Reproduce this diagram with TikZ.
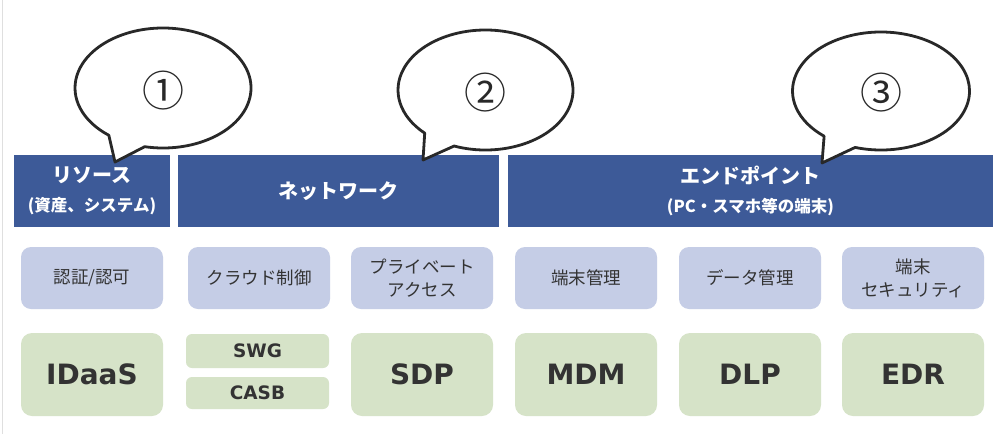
\documentclass[tikz,border=0pt]{standalone}
\usepackage{fontspec}
\usetikzlibrary{calc}
\newfontfamily\jp{Noto Sans CJK JP}
\newfontfamily\lat{DejaVu Sans}
\definecolor{hdr}{RGB}{61,90,152}
\definecolor{lblue}{RGB}{197,205,230}
\definecolor{lgreen}{RGB}{214,227,200}
\definecolor{txt}{RGB}{51,51,51}
\definecolor{bub}{RGB}{40,40,40}
\tikzset{
  hdrbox/.style={fill=hdr, inner sep=0pt, minimum height=72pt, text=white, align=center, font=\jp\bfseries\fontsize{20}{29}\selectfont},
  subtxt/.style={},
  catbox/.style={fill=lblue, rounded corners=10pt, inner sep=0pt, minimum width=142pt, minimum height=62pt, text=txt, align=center, font=\jp\fontsize{17.5}{23}\selectfont},
  toolbox/.style={fill=lgreen, rounded corners=11pt, inner sep=0pt, minimum width=142pt, minimum height=83pt, text=txt, font=\lat\bfseries\fontsize{28}{30}\selectfont},
  smallbox/.style={fill=lgreen, rounded corners=6pt, inner sep=0pt, minimum width=143pt, text=txt, font=\lat\bfseries\fontsize{18.5}{20}\selectfont},
  bubble/.style={draw=bub, fill=white, line width=2.8pt, line join=round},
  numtxt/.style={text=bub, font=\jp\fontsize{42}{44}\selectfont, inner sep=0pt}
}
\newcommand{\subline}[1]{{\fontsize{16.5}{20}\selectfont #1}}
\begin{document}
\begin{tikzpicture}[x=1pt,y=1pt]
\useasboundingbox[fill=white] (0,0) rectangle (1000,-434);
\draw[gray!25, line width=1pt] (2.5,0) -- (2.5,-434);
% header bars
\node[hdrbox, minimum width=156pt] (h1) at (92,-191) {リソース\\\subline{(資産、システム)}};
\node[hdrbox, minimum width=321pt] (h2) at (338.5,-191) {ネットワーク};
\node[hdrbox, minimum width=485pt] (h3) at (750.5,-191) {エンドポイント\\\subline{(PC・スマホ等の端末)}};
% speech bubbles
\draw[bubble] (115,-162) -- ($(163,-88)+(-102:88 and 60)$) arc[start angle=-102, end angle=232, x radius=88, y radius=60] -- cycle;
\node[numtxt] (n1) at (163,-91) {①};
\draw[bubble] (423,-160) -- ($(485.5,-90)+(-111:87.5 and 60)$) arc[start angle=-111, end angle=226, x radius=87.5, y radius=60] -- cycle;
\node[numtxt] (n2) at (485.5,-93) {②};
\draw[bubble] (822,-163) -- ($(881,-91)+(-107:88.5 and 59)$) arc[start angle=-107, end angle=230, x radius=88.5, y radius=59] -- cycle;
\node[numtxt] (n3) at (881,-93) {③};
% category boxes
\node[catbox] (c1) at (92,-278) {認証/認可};
\node[catbox] (c2) at (259,-278) {クラウド制御};
\node[catbox] (c3) at (422,-278) {プライベート\\アクセス};
\node[catbox] (c4) at (586,-278) {端末管理};
\node[catbox] (c5) at (750,-278) {データ管理};
\node[catbox] (c6) at (913,-278) {端末\\セキュリティ};
% tool boxes
\node[toolbox] (t1) at (92,-374.5) {IDaaS};
\node[smallbox, minimum height=34pt] (t2a) at (257.5,-351) {SWG};
\node[smallbox, minimum height=32pt] (t2b) at (257.5,-393) {CASB};
\node[toolbox] (t3) at (422,-374.5) {SDP};
\node[toolbox] (t4) at (586,-374.5) {MDM};
\node[toolbox] (t5) at (750,-374.5) {DLP};
\node[toolbox] (t6) at (913,-374.5) {EDR};
\end{tikzpicture}
\end{document}
